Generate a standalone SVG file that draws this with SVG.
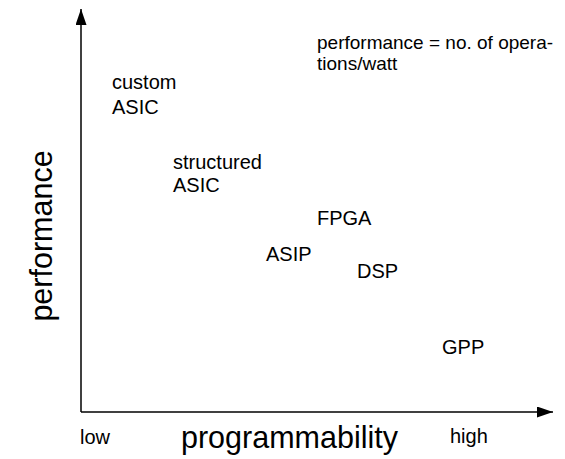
<svg xmlns="http://www.w3.org/2000/svg" width="565" height="459" viewBox="0 0 565 459">
<defs>
<style>
text{font-family:"Liberation Sans",Arial,sans-serif;fill:#000}
.n{font-size:20px}
.s{font-size:19px}
.e{font-size:20px}
.b{font-size:30.5px}
.ax{stroke:#000;stroke-width:1.5;fill:none}
</style>
<marker id="ah" markerWidth="16" markerHeight="11" refX="16" refY="5.5" orient="auto" markerUnits="userSpaceOnUse">
<path d="M0,0 L16,5.5 L0,11 Z" fill="#000"/>
</marker>
</defs>
<rect width="565" height="459" fill="#fff"/>
<g id="connectors">
<line class="ax" x1="81" y1="412" x2="81" y2="9" marker-end="url(#ah)"/>
<line class="ax" x1="81" y1="412" x2="553" y2="412" marker-end="url(#ah)"/>
</g>
<g id="note"><text class="s" x="317" y="48.5">performance = no. of opera-</text><text class="s" x="317" y="69.5">tions/watt</text></g>
<g id="custom-asic"><text class="n" x="112" y="89">custom</text><text class="n" x="112" y="114">ASIC</text></g>
<g id="structured-asic"><text class="n" x="173" y="169">structured</text><text class="n" x="173" y="192">ASIC</text></g>
<g id="fpga"><text class="n" x="317" y="225">FPGA</text></g>
<g id="asip"><text class="n" x="266" y="261">ASIP</text></g>
<g id="dsp"><text class="n" x="357" y="278">DSP</text></g>
<g id="gpp"><text class="n" x="442" y="354">GPP</text></g>
<g id="labels">
<text class="e" x="80" y="444">low</text>
<text class="b" x="181" y="448">programmability</text>
<text class="e" x="450" y="443">high</text>
<text class="b" transform="translate(52,236) rotate(-90)" text-anchor="middle">performance</text>
</g>
</svg>
